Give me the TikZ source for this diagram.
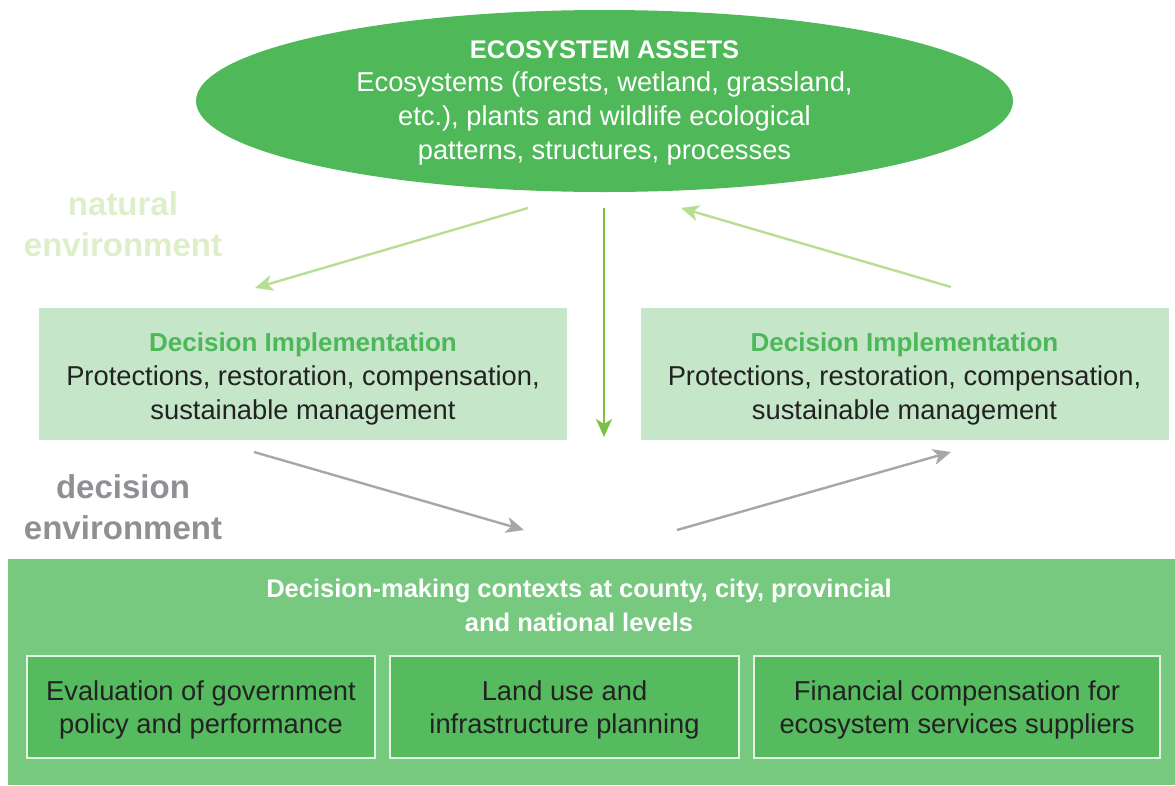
\documentclass[tikz,border=0pt]{standalone}
\usepackage{fontspec}
\setmainfont{Liberation Sans}
\usetikzlibrary{arrows.meta,shapes.geometric}
\definecolor{ellgreen}{HTML}{4FB858}
\definecolor{boxgreen}{HTML}{C5E6C8}
\definecolor{titlegreen}{HTML}{4DB85A}
\definecolor{panelgreen}{HTML}{77C97F}
\definecolor{innergreen}{HTML}{56BA5F}
\definecolor{innerborder}{HTML}{E4F3E4}
\definecolor{lightarrow}{HTML}{B7DF93}
\definecolor{darkarrow}{HTML}{7BC043}
\definecolor{grayarrow}{HTML}{A7A7AA}
\definecolor{natcol}{HTML}{DDEFC9}
\definecolor{deccol}{HTML}{8F8F94}
\definecolor{txt}{HTML}{222222}
\tikzset{
  bodyfont/.style={font=\fontsize{27.3}{33.7}\selectfont},
  sidelabel/.style={font=\fontsize{33}{41}\selectfont\bfseries, align=center},
  implbox/.style={fill=boxgreen, minimum width=528pt, minimum height=132pt, inner sep=0pt},
  innerbox/.style={fill=innergreen, draw=innerborder, line width=2pt, minimum height=102pt, inner sep=0pt},
  arr/.style={-{Stealth[length=18pt,width=16pt,inset=5pt]}, line width=2.4pt},
}
\begin{document}
\begin{tikzpicture}[x=1pt,y=-1pt]
\useasboundingbox (0,0) rectangle (1175,785);
% ellipse
\node[ellipse, fill=ellgreen, minimum width=817pt, minimum height=182pt, inner sep=0pt] (assets) at (604.5,101) {};
\node[bodyfont, text=white, align=center] (assetstext) at (604.5,102.5)
  {{\fontsize{25.5}{33.7}\selectfont\bfseries ECOSYSTEM ASSETS}\\Ecosystems (forests, wetland, grassland,\\etc.), plants and wildlife ecological\\patterns, structures, processes};
% side labels
\node[sidelabel, text=natcol] (natural) at (123,224) {natural\\environment};
\node[sidelabel, text=deccol] (decision) at (123,507) {decision\\environment};
% implementation boxes
\node[implbox] (implL) at (303,374) {};
\node[bodyfont, text=txt, align=center] (implLtext) at (303,379)
  {{\fontsize{26}{33.7}\selectfont\bfseries\color{titlegreen}Decision Implementation}\\Protections, restoration, compensation,\\sustainable management};
\node[implbox] (implR) at (904.5,374) {};
\node[bodyfont, text=txt, align=center] (implRtext) at (904.5,379)
  {{\fontsize{26}{33.7}\selectfont\bfseries\color{titlegreen}Decision Implementation}\\Protections, restoration, compensation,\\sustainable management};
% bottom panel
\node[fill=panelgreen, minimum width=1167pt, minimum height=226pt, inner sep=0pt] (panel) at (591.5,672) {};
\node[font=\fontsize{25.5}{33.5}\selectfont\bfseries, text=white, align=center] (paneltitle) at (579,605.5)
  {Decision-making contexts at county, city, provincial\\and national levels};
\node[innerbox, minimum width=348pt] (eval) at (201,707) {};
\node[bodyfont, text=txt, align=center] (evaltext) at (201,710) {Evaluation of government\\policy and performance};
\node[innerbox, minimum width=349pt] (land) at (564.5,707) {};
\node[bodyfont, text=txt, align=center] (landtext) at (564.5,710) {Land use and\\infrastructure planning};
\node[innerbox, minimum width=406pt] (fin) at (957,707) {};
\node[bodyfont, text=txt, align=center] (fintext) at (957,710) {Financial compensation for\\ecosystem services suppliers};
% arrow end points
\coordinate (a1s) at (528,208);
\coordinate (a1e) at (255,288);
\coordinate (a2s) at (604,208);
\coordinate (a2e) at (604,437);
\coordinate (a3s) at (951,287);
\coordinate (a3e) at (681,208);
\coordinate (a4s) at (254,452);
\coordinate (a4e) at (524,530);
\coordinate (a5s) at (677,530);
\coordinate (a5e) at (951,452);
\draw[arr, lightarrow] (a1s) -- (a1e);
\draw[arr, darkarrow] (a2s) -- (a2e);
\draw[arr, lightarrow] (a3s) -- (a3e);
\draw[arr, grayarrow] (a4s) -- (a4e);
\draw[arr, grayarrow] (a5s) -- (a5e);
\end{tikzpicture}
\end{document}
